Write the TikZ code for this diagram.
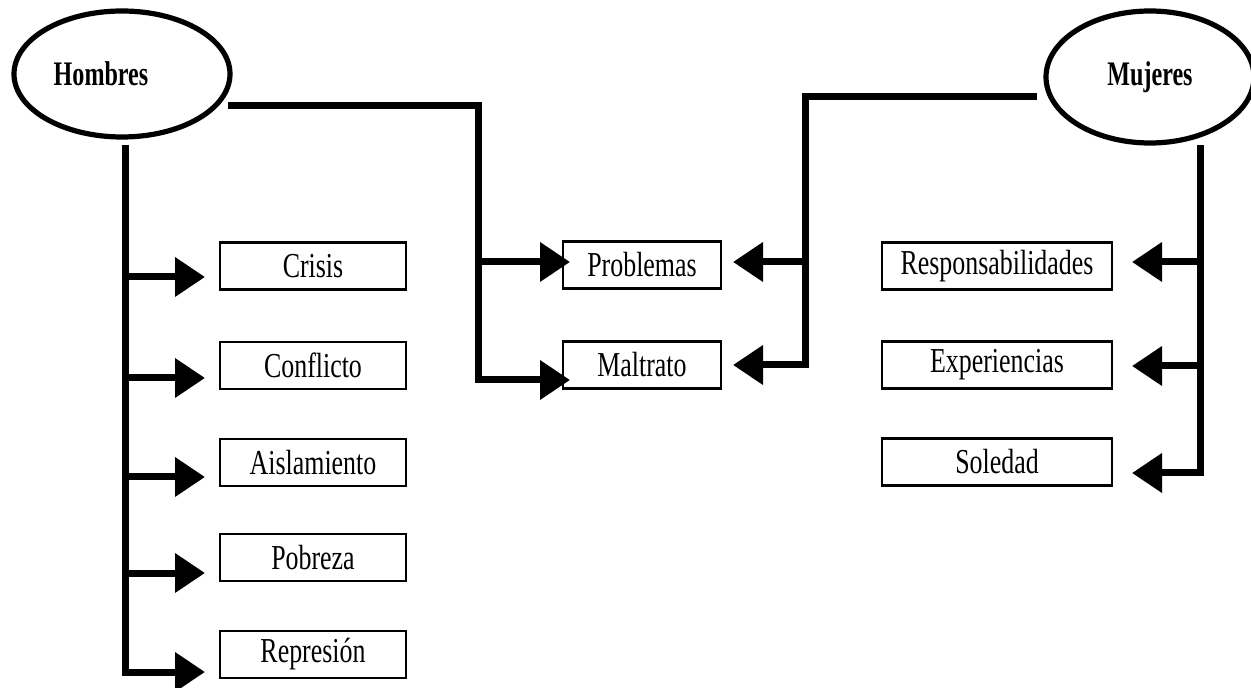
\documentclass[tikz,border=0pt]{standalone}
\usepackage{fontspec}
\usetikzlibrary{shapes.geometric,arrows.meta}
\newfontfamily\boxfont[FakeStretch=0.74]{Liberation Serif}
\newfontfamily\headfont[FakeStretch=0.70]{Liberation Serif}

\tikzset{
  conn/.style={line width=3.5pt, line join=miter, line cap=rect},
  arr/.style={conn, line cap=butt, -{Triangle[length=15pt,width=19pt]}},
  oval/.style={draw, ellipse, line width=2.6pt, inner sep=0pt,
    font=\headfont\bfseries\fontsize{17.2}{19}\selectfont},
  label box/.style={draw, rectangle, line width=1.2pt, inner sep=0pt,
    minimum height=23.5pt, font=\boxfont\fontsize{17.5}{19}\selectfont},
  leftbox/.style={label box, minimum width=93pt},
  midbox/.style={label box, minimum width=79pt},
  rightbox/.style={label box, minimum width=115pt}
}

\begin{document}
\begin{tikzpicture}[x=0.5pt, y=-0.5pt]
  \useasboundingbox (0,0) rectangle (1251,688);

  % the two heads
  \node[oval, minimum width=108pt, minimum height=63pt,
        label={[xshift=-10.5pt, font=\headfont\bfseries\fontsize{17.2}{19}\selectfont]center:Hombres}]
        (hom) at (122,74) {};
  \node[oval, minimum width=104pt, minimum height=66pt] (muj) at (1150,77)
        {\raisebox{-3pt}{Mujeres}};

  % left column
  \node[leftbox] (crisis)  at (313,266)   {Crisis};
  \node[leftbox] (confl)   at (313,365.5) {Conflicto};
  \node[leftbox] (aisl)    at (313,462.5) {Aislamiento};
  \node[leftbox] (pobr)    at (313,557.5) {Pobreza};
  \node[leftbox] (repr)    at (313,654.5) {Represión};

  % middle column
  \node[midbox] (probl) at (642,265) {Problemas};
  \node[midbox] (maltr) at (642,365) {Maltrato};

  % right column
  \node[rightbox] (resp)  at (997,266) {Responsabilidades};
  \node[rightbox] (exper) at (997,365) {Experiencias};
  \node[rightbox] (soled) at (997,462) {Soledad};

  % connector end points
  \coordinate (hroot) at (125,145);
  \coordinate (h1) at (205,277);
  \coordinate (h2) at (205,378);
  \coordinate (h3) at (205,477);
  \coordinate (h4) at (205,573);
  \coordinate (h5) at (205,672);

  \coordinate (hexit) at (228,106);
  \coordinate (hcorner) at (478,106);
  \coordinate (pL) at (570,262);
  \coordinate (mL) at (570,380);

  \coordinate (mexit) at (1037,97);
  \coordinate (mcorner) at (805,97);
  \coordinate (pR) at (733,262);
  \coordinate (mR) at (733,365);

  \coordinate (mroot) at (1200,145);
  \coordinate (r1) at (1132,262);
  \coordinate (r2) at (1132,366);
  \coordinate (r3) at (1132,473);

  % Hombres -> left column
  \draw[arr] (hroot) |- (h5);
  \draw[arr] (hroot |- h1) -- (h1);
  \draw[arr] (hroot |- h2) -- (h2);
  \draw[arr] (hroot |- h3) -- (h3);
  \draw[arr] (hroot |- h4) -- (h4);

  % Hombres -> middle column
  \draw[arr] (hexit) -- (hcorner) |- (mL);
  \draw[arr] (hcorner |- pL) -- (pL);

  % Mujeres -> middle column
  \draw[arr] (mexit) -- (mcorner) |- (mR);
  \draw[arr] (mcorner |- pR) -- (pR);

  % Mujeres -> right column
  \draw[arr] (mroot) |- (r3);
  \draw[arr] (mroot |- r1) -- (r1);
  \draw[arr] (mroot |- r2) -- (r2);
\end{tikzpicture}
\end{document}
